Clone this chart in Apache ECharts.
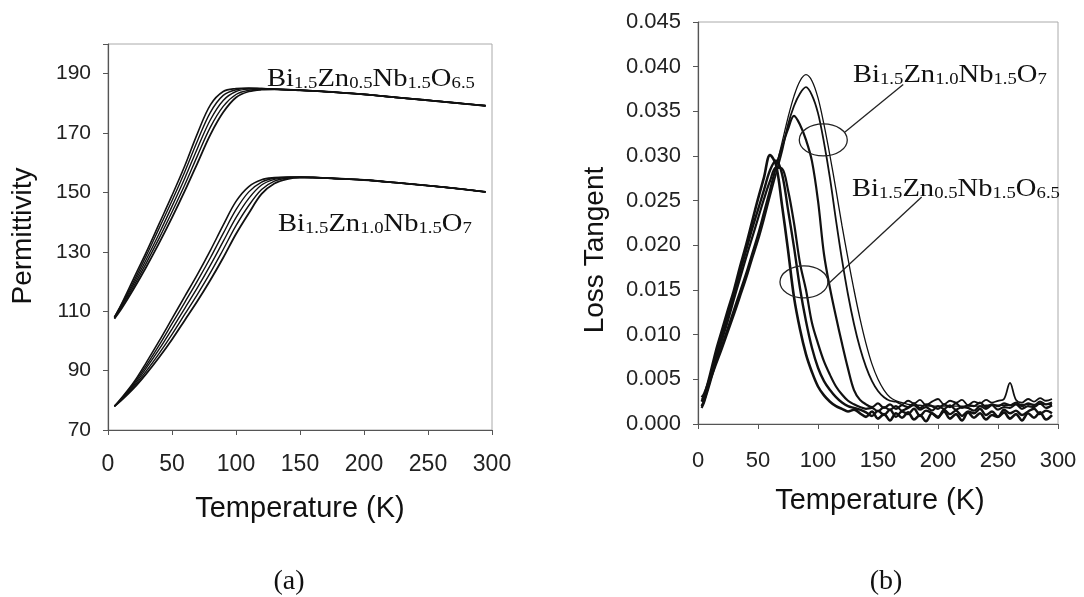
<!DOCTYPE html>
<html><head><meta charset="utf-8">
<script src="https://cdn.jsdelivr.net/npm/echarts@6/dist/echarts.min.js"></script>
<style>html,body{margin:0;padding:0;background:#fff}#c{width:1084px;height:597px}</style>
</head><body><div id="c"></div>
<script>
// ---------- Panel (a): permittivity ----------
const tempA = [5,10,20,30,40,50,60,70,80,90,100,110,120,130,140,150,160,175,200,225,250,275,295];
// Bi1.5Zn0.5Nb1.5O6.5 (upper group, five frequencies)
const permZn05_1 = [108,112,121,130,139.5,149,159,170,179.5,184,185,185.2,185,184.8,184.6,184.4,184.2,183.8,183,182,181,180,179.2];
const permZn05_2 = [108,111.8,120,128.8,138,147.2,157,167.5,177,182.7,184.6,185,185,184.8,184.6,184.4,184.2,183.8,183.1,182,181.1,180,179.3];
const permZn05_3 = [107.8,111.4,119.2,127.5,136.2,145.3,154.8,165,174.5,181,184,184.8,184.9,184.8,184.7,184.5,184.2,183.9,183,182.1,181,180.1,179.2];
const permZn05_4 = [107.6,111,118.4,126.3,134.6,143.4,152.6,162.5,172,179,183,184.4,184.8,184.8,184.6,184.4,184.3,183.8,183.1,182,181.1,180,179.1];
const permZn05_5 = [107.5,110.5,117.5,125,133,141.5,150.5,160,169.5,177,182,184,184.6,184.7,184.6,184.4,184.2,183.8,183,182,181,180,179.2];
// Bi1.5Zn1.0Nb1.5O7 (lower group, five frequencies)
const permZn10_1 = [78,80.5,86,92.8,100,107.5,115,122.5,130.5,139,147,152,154.3,155,155.2,155.2,155,154.7,154.2,153.3,152.3,151.2,150.2];
const permZn10_2 = [78,80.3,85.5,91.8,98.6,105.8,113,120.3,128,136.2,144.2,150.2,153.5,154.8,155.1,155.2,155.1,154.7,154.2,153.3,152.3,151.2,150.2];
const permZn10_3 = [78,80.1,85,90.9,97.2,104,111,118,125.5,133.5,141.5,148,152.5,154.4,155,155.1,155.1,154.8,154.2,153.3,152.3,151.2,150.1];
const permZn10_4 = [78,80,84.5,89.9,95.8,102.2,109,115.8,123,130.8,138.8,145.6,151,153.8,154.8,155,155,154.8,154.2,153.3,152.3,151.2,150.2];
const permZn10_5 = [78,79.8,84,89,94.5,100.5,107,113.5,120.5,128,136,143,149.5,153,154.5,155,155,154.8,154.2,153.3,152.3,151.2,150.2];

// ---------- Panel (b): loss tangent ----------
const tempB = [3,5,10,15,20,25,30,35,40,45,50,55,60,65,70,75,80,85,90,95,100,105,110,115,120,125,130,
  135,140,145,150,155,160,165,170,175,180,185,190,195,200,205,210,215,220,225,230,235,240,245,250,255,260,265,270,275,280,285,290,295];
// Bi1.5Zn0.5Nb1.5O6.5
const tanZn05_1 = [0.0025,0.0030,0.0055,0.0082,0.0105,0.0128,0.0150,0.0176,0.0200,0.0226,0.0252,0.0276,0.0301,0.0290,0.0245,0.0195,0.0142,0.0106,0.0078,0.0058,0.0042,0.0032,0.0025,0.0020,0.0017,0.0014,0.0016,
  0.0012,0.0008,0.0014,0.0006,0.0011,0.0004,0.0012,0.0007,0.0013,0.0005,0.0010,0.0003,0.0012,0.0008,0.0014,0.0006,0.0011,0.0004,0.0013,0.0007,0.0012,0.0005,0.0010,0.0008,0.0013,0.0006,0.0011,0.0004,0.0012,0.0007,0.0013,0.0005,0.0010];
const tanZn05_2 = [0.0020,0.0026,0.0050,0.0076,0.0100,0.0122,0.0146,0.0170,0.0194,0.0218,0.0240,0.0262,0.0284,0.0295,0.0280,0.0240,0.0198,0.0152,0.0115,0.0085,0.0063,0.0048,0.0038,0.0030,0.0024,0.0020,0.0018,
  0.0016,0.0013,0.0009,0.0015,0.0010,0.0016,0.0008,0.0014,0.0011,0.0017,0.0009,0.0015,0.0012,0.0007,0.0016,0.0011,0.0015,0.0009,0.0014,0.0012,0.0017,0.0010,0.0014,0.0008,0.0016,0.0012,0.0015,0.0010,0.0014,0.0017,0.0011,0.0015,0.0012];
const tanZn05_3 = [0.0018,0.0024,0.0046,0.0070,0.0094,0.0116,0.0140,0.0163,0.0186,0.0208,0.0230,0.0252,0.0272,0.0287,0.0286,0.0262,0.0225,0.0180,0.0150,0.0113,0.0090,0.0070,0.0055,0.0042,0.0033,0.0026,0.0022,
  0.0019,0.0017,0.0018,0.0014,0.0019,0.0016,0.0020,0.0015,0.0018,0.0021,0.0016,0.0019,0.0015,0.0020,0.0017,0.0021,0.0016,0.0019,0.0018,0.0015,0.0020,0.0017,0.0021,0.0016,0.0019,0.0018,0.0022,0.0017,0.0020,0.0019,0.0023,0.0018,0.0021];
// Bi1.5Zn1.0Nb1.5O7
const tanZn10_1 = [0.0028,0.0032,0.0050,0.0068,0.0086,0.0105,0.0125,0.0145,0.0166,0.0188,0.0210,0.0234,0.0260,0.0287,0.0315,0.0343,0.0367,0.0384,0.0391,0.0384,0.0365,0.0335,0.0300,0.0262,0.0222,0.0185,0.0150,
  0.0118,0.0090,0.0067,0.0050,0.0038,0.0030,0.0026,0.0024,0.0022,0.0021,0.0021,0.0020,0.0020,0.0020,0.0020,0.0020,0.0020,0.0020,0.0020,0.0020,0.0020,0.0021,0.0021,0.0021,0.0021,0.0021,0.0022,0.0022,0.0022,0.0022,0.0022,0.0022,0.0022];
const tanZn10_2 = [0.0026,0.0030,0.0048,0.0066,0.0084,0.0103,0.0122,0.0142,0.0162,0.0184,0.0205,0.0229,0.0255,0.0280,0.0305,0.0335,0.0356,0.0370,0.0377,0.0368,0.0348,0.0315,0.0275,0.0228,0.0184,0.0145,0.0112,
  0.0085,0.0064,0.0048,0.0037,0.0030,0.0026,0.0025,0.0022,0.0026,0.0023,0.0027,0.0021,0.0025,0.0028,0.0022,0.0026,0.0024,0.0027,0.0021,0.0025,0.0023,0.0027,0.0024,0.0026,0.0028,0.0046,0.0027,0.0024,0.0028,0.0025,0.0029,0.0026,0.0028];
const tanZn10_3 = [0.0030,0.0034,0.0052,0.0070,0.0088,0.0108,0.0128,0.0148,0.0168,0.0190,0.0212,0.0237,0.0262,0.0288,0.0310,0.0330,0.0345,0.0335,0.0318,0.0294,0.0250,0.0190,0.0152,0.0120,0.0090,0.0062,0.0038,
  0.0027,0.0022,0.0019,0.0023,0.0018,0.0022,0.0017,0.0021,0.0019,0.0023,0.0018,0.0022,0.0020,0.0017,0.0022,0.0019,0.0023,0.0018,0.0021,0.0020,0.0024,0.0019,0.0022,0.0020,0.0023,0.0021,0.0024,0.0020,0.0023,0.0021,0.0025,0.0022,0.0024];

const xTicks = [0,50,100,150,200,250,300];
const permTicks = [70,90,110,130,150,170,190];
const tanTicks = ['0.000','0.005','0.010','0.015','0.020','0.025','0.030','0.035','0.040','0.045'];

const SANS = '"Liberation Sans", Arial, sans-serif';
const SERIF = '"Liberation Serif", "Times New Roman", serif';

function pairs(xs, ys){ return xs.map((x,i)=>[x, ys[i]]); }
function lineSeries(xs, ys, gi, w){
  return {type:'line', xAxisIndex:gi, yAxisIndex:gi, data:pairs(xs,ys), showSymbol:false, smooth:0.35,
    lineStyle:{color:'#111', width:w}, silent:true, animation:false, z:3};
}

const chart = echarts.init(document.getElementById('c'));
const axisCommon = {
  axisLine:{show:true, lineStyle:{color:'#555', width:1.2}},
  axisTick:{show:true, length:5, lineStyle:{color:'#555'}},
  splitLine:{show:false}
};

chart.setOption({
  animation:false,
  backgroundColor:'#fff',
  grid:[
    {left:108, top:44, width:384, height:386, show:true, borderColor:'#aaa', borderWidth:1},
    {left:698, top:22, width:360, height:402, show:true, borderColor:'#aaa', borderWidth:1}
  ],
  xAxis:[
    Object.assign({type:'value', gridIndex:0, min:xTicks[0], max:xTicks[xTicks.length-1], interval:50,
      axisLabel:{fontFamily:SANS, fontSize:23, color:'#222', margin:23, showMinLabel:true, showMaxLabel:true}}, axisCommon),
    Object.assign({type:'value', gridIndex:1, min:xTicks[0], max:xTicks[xTicks.length-1], interval:50,
      axisLabel:{fontFamily:SANS, fontSize:22, color:'#222', margin:26, showMinLabel:true, showMaxLabel:true}}, axisCommon)
  ],
  yAxis:[
    Object.assign({type:'value', gridIndex:0, min:permTicks[0], max:200, interval:20,
      axisLabel:{fontFamily:SANS, fontSize:21, color:'#222', margin:17, showMinLabel:true, showMaxLabel:true,
        formatter:v => permTicks.indexOf(v) >= 0 ? String(v) : ''}}, axisCommon),
    Object.assign({type:'value', gridIndex:1, min:0, max:0.045, interval:0.005,
      axisLabel:{fontFamily:SANS, fontSize:22, color:'#222', margin:17, showMinLabel:true, showMaxLabel:true,
        formatter:v => tanTicks[Math.round(v/0.005)] || ''}}, axisCommon)
  ],
  series:[
    lineSeries(tempA, permZn05_1, 0, 1.6),
    lineSeries(tempA, permZn05_2, 0, 1.4),
    lineSeries(tempA, permZn05_3, 0, 1.4),
    lineSeries(tempA, permZn05_4, 0, 1.4),
    lineSeries(tempA, permZn05_5, 0, 1.8),
    lineSeries(tempA, permZn10_1, 0, 1.6),
    lineSeries(tempA, permZn10_2, 0, 1.4),
    lineSeries(tempA, permZn10_3, 0, 1.4),
    lineSeries(tempA, permZn10_4, 0, 1.4),
    lineSeries(tempA, permZn10_5, 0, 1.8),
    lineSeries(tempB, tanZn05_1, 1, 2.6),
    lineSeries(tempB, tanZn05_2, 1, 2.4),
    lineSeries(tempB, tanZn05_3, 1, 2.2),
    lineSeries(tempB, tanZn10_1, 1, 1.3),
    lineSeries(tempB, tanZn10_2, 1, 1.8),
    lineSeries(tempB, tanZn10_3, 1, 2.2)
  ]
});

function formula(parts){
  return parts.map((p,i)=> (i%2===0 ? '{m|'+p+'}' : '{s|'+p+'}')).join('');
}
const richF = {
  m:{fontFamily:SERIF, fontSize:26, lineHeight:30, verticalAlign:'bottom', fill:'#111'},
  s:{fontFamily:SERIF, fontSize:17, lineHeight:14, verticalAlign:'bottom', fill:'#111'}
};
const f05 = formula(['Bi','1.5','Zn','0.5','Nb','1.5','O','6.5']);
const f10 = formula(['Bi','1.5','Zn','1.0','Nb','1.5','O','7']);
function ftext(x, yc, txt){
  return {type:'text', x:x, y:yc, scaleX:1.1, originX:0, originY:0, z:10,
    style:{text:txt, rich:richF, verticalAlign:'middle', align:'left', fill:'#111'}};
}
function label(x, y, txt, size, fam, rot){
  return {type:'text', x:x, y:y, rotation:rot||0, z:10,
    style:{text:txt, fontFamily:fam, fontSize:size, fill:'#111', align:'center', verticalAlign:'middle'}};
}
const P = (p)=>chart.convertToPixel({gridIndex:1}, p);
const e1 = P([104.4, 0.0318]), e2 = P([88.3, 0.0159]);
const l1a = P([122.5, 0.0327]), l1b = P([171, 0.0380]);
const l2a = P([108.6, 0.0157]), l2b = P([186.4, 0.0254]);

chart.setOption({graphic:[
  label(23, 236, 'Permittivity', 28, SANS, Math.PI/2),
  label(595, 250, 'Loss Tangent', 28, SANS, Math.PI/2),
  label(300, 509, 'Temperature (K)', 29, SANS),
  label(880, 501, 'Temperature (K)', 29, SANS),
  label(289, 582, '(a)', 28, SERIF),
  label(886, 582, '(b)', 28, SERIF),
  ftext(267, 77, f05),
  ftext(278, 222, f10),
  ftext(853, 73, f10),
  ftext(852, 187, f05),
  {type:'ellipse', shape:{cx:e1[0], cy:e1[1], rx:24, ry:16}, style:{fill:'none', stroke:'#222', lineWidth:1.3}, z:10},
  {type:'ellipse', shape:{cx:e2[0], cy:e2[1], rx:24, ry:16}, style:{fill:'none', stroke:'#222', lineWidth:1.3}, z:10},
  {type:'line', shape:{x1:l1a[0], y1:l1a[1], x2:l1b[0], y2:l1b[1]}, style:{stroke:'#222', lineWidth:1.3}, z:10},
  {type:'line', shape:{x1:l2a[0], y1:l2a[1], x2:l2b[0], y2:l2b[1]}, style:{stroke:'#222', lineWidth:1.3}, z:10}
]});
</script></body></html>
